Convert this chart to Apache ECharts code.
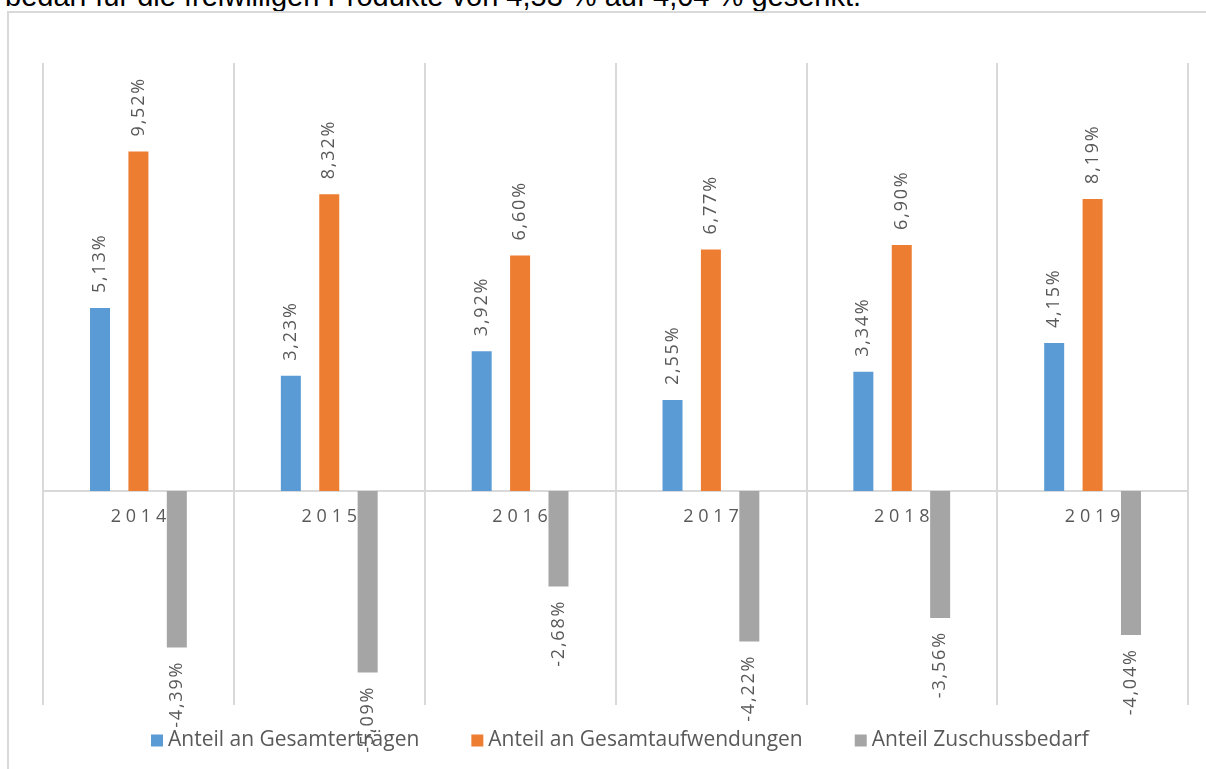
<!DOCTYPE html>
<html>
<head>
<meta charset="utf-8">
<script src="https://cdn.jsdelivr.net/npm/echarts@6/dist/echarts.min.js"></script>
<style>
  html, body { margin: 0; padding: 0; background: #fff; overflow: hidden; }
  #page { position: relative; width: 1206px; height: 769px; overflow: hidden; }
  #intro { position: absolute; left: 5px; top: -18px; font-family: "Liberation Sans", Arial, sans-serif;
           font-size: 29px; line-height: 29px; color: #000; white-space: nowrap; }
  #frame { position: absolute; left: 7px; top: 11px; width: 1240px; height: 800px;
           border: 2px solid #d9d9d9; box-sizing: border-box; }
  #chart { position: absolute; left: 0; top: 0; width: 1206px; height: 769px; }
</style>
</head>
<body>
<div id="page">
  <div id="intro">bedarf für die freiwilligen Produkte von 4,53 % auf 4,04 % gesenkt.</div>
  <div id="frame"></div>
  <div id="chart"></div>
</div>
<script>
// Years and shares (in percent)
const years = ['2014', '2015', '2016', '2017', '2018', '2019'];
const anteilErtraege = [5.13, 3.23, 3.92, 2.55, 3.34, 4.15];
const anteilAufwendungen = [9.52, 8.32, 6.60, 6.77, 6.90, 8.19];
const anteilZuschuss = [-4.39, -5.09, -2.68, -4.22, -3.56, -4.04];
const seriesNames = ['Anteil an Gesamterträgen', 'Anteil an Gesamtaufwendungen', 'Anteil Zuschussbedarf'];

const textColor = '#595959';
const fontFamily = '"Open Sans", "Noto Sans", sans-serif';

const yMin = -6, yMax = 12;
const gridTop = 63, gridBottom = 64, chartH = 769;

// spread characters a little, like tracked text
const spread = (s, sep) => s.split('').join(sep);
const fmt = (v) => spread(v.toFixed(2).replace('.', ',') + '%', '\u200a');

const posLabel = {
  show: true, position: 'top', rotate: 90, align: 'left', verticalAlign: 'middle',
  distance: 15, color: textColor, fontSize: 18, fontFamily: fontFamily,
  formatter: (p) => fmt(p.value)
};
const negLabel = {
  show: true, position: 'bottom', rotate: 90, align: 'right', verticalAlign: 'middle',
  distance: 15, color: textColor, fontSize: 18, fontFamily: fontFamily,
  formatter: (p) => fmt(p.value)
};

// place the category axis on the zero line
const plotH = chartH - gridTop - gridBottom;
const zeroOffset = -plotH * (0 - yMin) / (yMax - yMin);

const chart = echarts.init(document.getElementById('chart'), null, { renderer: 'canvas' });
chart.setOption({
  animation: false,
  backgroundColor: 'transparent',
  grid: { left: 43, right: 18, top: gridTop, bottom: gridBottom },
  legend: {
    top: 725, left: 146,
    itemWidth: 12, itemHeight: 12, itemGap: 52,
    icon: 'rect',
    textStyle: { color: textColor, fontSize: 21, fontFamily: fontFamily },
    data: seriesNames
  },
  xAxis: {
    type: 'category',
    data: years,
    position: 'bottom',
    offset: zeroOffset,
    axisLine: { onZero: false, lineStyle: { color: '#d9d9d9', width: 2 } },
    axisTick: { show: false },
    axisLabel: {
      color: textColor, fontSize: 18, fontFamily: fontFamily, margin: 17,
      formatter: (v) => spread(v, '\u2009\u200a')
    },
    splitLine: { show: true, lineStyle: { color: '#d9d9d9', width: 2 } }
  },
  yAxis: {
    type: 'value', min: yMin, max: yMax, interval: 2,
    show: false, splitLine: { show: false }
  },
  series: [
    { name: seriesNames[0], type: 'bar', data: anteilErtraege, barWidth: 20, barGap: '92%',
      itemStyle: { color: '#5b9bd5' }, label: posLabel },
    { name: seriesNames[1], type: 'bar', data: anteilAufwendungen, barWidth: 20, barGap: '92%',
      itemStyle: { color: '#ed7d31' }, label: posLabel },
    { name: seriesNames[2], type: 'bar', data: anteilZuschuss, barWidth: 20, barGap: '92%',
      itemStyle: { color: '#a5a5a5' }, label: negLabel }
  ]
});
</script>
</body>
</html>
